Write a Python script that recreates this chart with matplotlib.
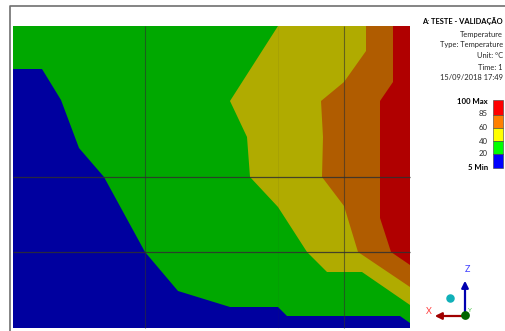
import matplotlib
matplotlib.use("Agg")
import matplotlib.pyplot as plt
from matplotlib.patches import Rectangle

plt.rcParams['font.family'] = ['Lato', 'DejaVu Sans']

#Limites de la zona de contorno (en pixeles de la imagen)
x_min, x_max = 13, 410
y_top, y_bottom = 26, 328

#Fronteras de cada banda
azul_x = [13, 42, 61, 79, 104, 145, 178, 230, 278, 287, 400, 410]
azul_y = [69, 69, 100, 148, 177, 252, 291, 307, 307, 316, 316, 323]

amarillo_x = [278, 230, 247, 250, 278, 307, 327, 362, 410]
amarillo_y = [26, 101, 137, 177, 207, 252, 272, 272, 305]

naranja_x = [366, 366, 344, 321, 323, 322, 344, 358, 410]
naranja_y = [26, 51, 82, 101, 137, 177, 206, 252, 287]

rojo_x = [393, 393, 380, 380, 391, 410]
rojo_y = [26, 82, 101, 218, 252, 265]

#Lineas de la malla
malla_v = [145, 344]
malla_h = [177, 252]

#Leyenda
titulo = ["A: TESTE - VALIDAÇÃO", "Temperature", "Type: Temperature", "Unit: °C", "Time: 1", "15/09/2018 17:49"]
titulo_y = [21, 34, 45, 56, 67, 78]
etiquetas = ["100 Max", "85", "60", "40", "20", "5 Min"]
etiquetas_y = [101, 114, 127, 141, 154, 168]
colores_leyenda = ["#ff0000", "#ff8000", "#ffff00", "#00ff00", "#0000ff"]
bordes_leyenda = [100, 115, 128, 141, 154, 168]

fig = plt.figure(figsize=(5.06, 3.31), dpi=100)
ax = fig.add_axes([0, 0, 1, 1])
ax.set_xlim(0, 506)
ax.set_ylim(331, 0)
ax.axis("off")

#Marco de la ventana
ax.plot([10, 10, 506], [331, 5.5, 5.5], color="#707070", lw=1.2)

#Fondo verde y bandas
ax.add_patch(Rectangle((x_min, y_top), x_max-x_min, y_bottom-y_top, color="#00a800", lw=0))
ax.fill(azul_x+[x_max, x_min], azul_y+[y_bottom, y_bottom], color="#00009f", lw=0)
ax.fill(amarillo_x+[x_max], amarillo_y+[y_top], color="#b0ab00", lw=0)
ax.fill(naranja_x+[x_max], naranja_y+[y_top], color="#b05c00", lw=0)
ax.fill(rojo_x+[x_max], rojo_y+[y_top], color="#b00000", lw=0)

#Malla
for x in malla_v:
    ax.plot([x, x], [y_top, y_bottom], color="#303030", lw=0.8, alpha=0.6, solid_capstyle="butt")
ax.plot([278, 278], [y_top, y_bottom], color="#303030", lw=0.6, alpha=0.08, solid_capstyle="butt")
for y in malla_h:
    ax.plot([x_min, x_max], [y, y], color="#303030", lw=0.9, alpha=0.85, solid_capstyle="butt")

#Textos de la leyenda
for i in range(len(titulo)):
    ax.text(503, titulo_y[i], titulo[i], ha="right", va="center", fontsize=5.4,
            color="#000000" if i == 0 else "#252525", fontweight="bold" if i == 0 else "normal")
for i in range(len(etiquetas)):
    negrita = i == 0 or i == len(etiquetas)-1
    ax.text(488, etiquetas_y[i], etiquetas[i], ha="right", va="center", fontsize=5.6,
            color="#000000" if negrita else "#252525", fontweight="bold" if negrita else "normal")
for i in range(len(colores_leyenda)):
    ax.add_patch(Rectangle((493, bordes_leyenda[i]), 10, bordes_leyenda[i+1]-bordes_leyenda[i],
                           facecolor=colores_leyenda[i], edgecolor="#404040", lw=0.4))

#Triada de ejes
ax.annotate("", xy=(465, 278), xytext=(465, 316),
            arrowprops=dict(arrowstyle="-|>", color="#0000b0", lw=1.6, mutation_scale=10))
ax.annotate("", xy=(432, 316), xytext=(465, 316),
            arrowprops=dict(arrowstyle="-|>", color="#a00000", lw=1.6, mutation_scale=10))
ax.scatter([465], [315], s=28, color="#006400", zorder=5)
ax.scatter([450], [298], s=26, color="#10b0b8", zorder=5)
ax.text(467, 269, "Z", color="#4040ff", fontsize=6.5, ha="center", va="center")
ax.text(429, 312, "X", color="#ff4040", fontsize=6.5, ha="center", va="center")
ax.text(469, 310, "Y", color="#40c040", fontsize=4.5, ha="center", va="center")

fig.savefig("out.png", dpi=100)
